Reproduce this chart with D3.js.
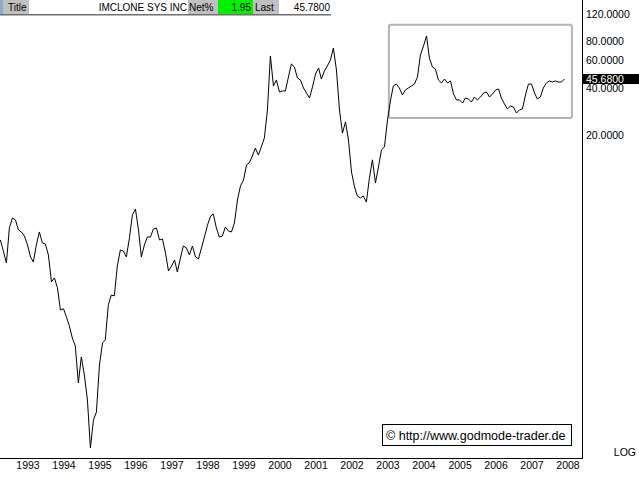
<!DOCTYPE html>
<html><head><meta charset="utf-8">
<script src="https://cdn.jsdelivr.net/npm/d3@7"></script>
<style>
html,body{margin:0;padding:0;background:#fff;}
svg{display:block;font-family:Arial,"Liberation Sans",sans-serif;}
</style></head><body>
<svg id="c" width="639" height="479"></svg>
<script>
// ---- data ----
const startMonth = "1992-04";
const prices = [
 4.21, 3.57, 2.99, 5.03, 5.83, 5.66, 4.88, 4.74, 4.46,
 3.91, 3.27, 3.04, 3.91, 4.74, 4.03, 3.97, 3.37, 2.26, 2.40,
 2.07, 1.49, 1.52, 1.34, 1.18, 0.985, 0.875, 0.506, 0.744, 0.569,
 0.393, 0.193, 0.292, 0.329, 0.660, 0.915, 0.956, 1.61, 1.86, 1.84,
 2.86, 3.63, 3.57, 3.27, 4.34, 6.09, 6.66, 4.88, 3.27, 3.91,
 4.40, 4.40, 4.95, 5.03, 4.21, 4.27, 3.47, 2.66, 2.86, 3.13,
 2.62, 3.22, 3.85, 3.74, 3.37, 3.85, 3.27, 3.18, 3.74, 4.40,
 5.25, 6.00, 6.18, 5.03, 4.40, 4.46, 5.10, 4.81, 4.74, 5.41,
 7.61, 9.36, 10.2, 12.8, 13.2, 14.6, 16.4, 14.8, 16.7, 19.1,
 28.9, 64.3, 41.2, 45.0, 37.7, 38.3, 38.3, 47.1, 57.1, 54.6,
 46.4, 45.0, 40.0, 37.1, 34.5, 40.6, 49.2, 53.8, 45.7, 51.5,
 55.4, 60.6, 72.3, 52.2, 28.9, 20.5, 24.2, 18.5, 11.5, 9.22,
 8.08, 7.84, 8.08, 7.38, 10.5, 13.8, 9.79, 12.4, 16.0, 16.7,
 24.9, 33.5, 41.2, 42.4, 40.0, 36.1, 38.8, 40.0, 41.2, 42.4,
 47.1, 65.2, 74.5, 86.4, 62.4, 54.6, 53.0, 45.0, 43.1, 45.7,
 43.1, 44.4, 36.6, 33.5, 33.5, 32.0, 34.5, 34.0, 32.5, 35.0,
 33.5, 35.0, 37.1, 37.7, 35.0, 36.6, 38.8, 39.4, 34.5, 31.6,
 29.3, 30.6, 30.2, 27.6, 28.9, 29.3, 36.1, 42.4, 42.4, 37.1,
 34.0, 35.0, 40.0, 43.1, 44.4, 43.7, 44.4, 43.7, 43.7, 45.68
];
const yearLabels = ["1993","1994","1995","1996","1997","1998","1999","2000",
  "2001","2002","2003","2004","2005","2006","2007","2008"];
const priceTicks = [20, 40, 60, 80, 120];
const priceTickLabels = ["20.0000","40.0000","60.0000","80.0000","120.0000"];
const lastPrice = 45.68;
const lastPriceLabel = "45.6800";
const headerTitle = "IMCLONE SYS INC";
const headerNet = "1.95";
const headerLast = "45.7800";
const creditText = "\u00A9 http://www.godmode-trader.de";
const highlightDates = ["2003-01-15", "2008-02-15"];
const highlightPrices = [25.6, 102];

// ---- setup ----
const W = 639, H = 479;
const svg = d3.select("#c");
svg.append("rect").attr("width", W).attr("height", H).attr("fill", "#fff");

const parseM = d3.timeParse("%Y-%m");
const parseD = d3.timeParse("%Y-%m-%d");
const start = parseM(startMonth);
const series = prices.map((v, i) => ({date: d3.timeMonth.offset(start, i), value: v}));

const axisX = 582, axisY = 458;
const x = d3.scaleTime()
  .domain([new Date(+yearLabels[0], 0, 1), new Date(+yearLabels[yearLabels.length - 1], 0, 1)])
  .range([27.5, 567.5]);
const y = d3.scaleLog().domain([0.1665, 147.3]).range([axisY, 0]);

// highlight box
svg.append("rect")
  .attr("x", x(parseD(highlightDates[0])))
  .attr("y", y(highlightPrices[1]))
  .attr("width", x(parseD(highlightDates[1])) - x(parseD(highlightDates[0])))
  .attr("height", y(highlightPrices[0]) - y(highlightPrices[1]))
  .attr("rx", 2)
  .attr("fill", "none").attr("stroke", "#b4b4b4").attr("stroke-width", 2);

// price line
svg.append("path").datum(series)
  .attr("fill", "none").attr("stroke", "#000").attr("stroke-width", 1)
  .attr("d", d3.line().x(d => x(d.date)).y(d => y(d.value)));

// axes lines
svg.append("line").attr("x1", 0).attr("x2", axisX).attr("y1", axisY + 0.5).attr("y2", axisY + 0.5)
  .attr("stroke", "#000");
svg.append("line").attr("x1", axisX + 0.5).attr("x2", axisX + 0.5).attr("y1", 0).attr("y2", axisY + 1)
  .attr("stroke", "#000");

// x axis labels
const xAxis = d3.axisBottom(x)
  .tickValues(yearLabels.map(s => new Date(+s, 0, 1)))
  .tickFormat((d, i) => yearLabels[i])
  .tickSize(0).tickPadding(3);
const gx = svg.append("g").attr("transform", `translate(0,${axisY + 1})`).call(xAxis);
gx.select(".domain").remove();
gx.selectAll("text").attr("font-size", "10.5px").attr("fill", "#000")
  .attr("font-family", "Arial, 'Liberation Sans', sans-serif");

// y axis labels
const yAxis = d3.axisRight(y)
  .tickValues(priceTicks)
  .tickFormat((d, i) => priceTickLabels[i])
  .tickSize(0).tickPadding(4);
const gy = svg.append("g").attr("transform", `translate(${axisX},0)`).call(yAxis);
gy.select(".domain").remove();
gy.selectAll("text").attr("font-size", "10.5px").attr("fill", "#000")
  .attr("font-family", "Arial, 'Liberation Sans', sans-serif");

// last price marker
const ly = y(lastPrice);
svg.append("rect").attr("x", axisX + 1).attr("y", ly - 5).attr("width", W - axisX - 1).attr("height", 10)
  .attr("fill", "#000");
svg.append("text").attr("x", axisX + 4).attr("y", ly).attr("dy", "0.35em")
  .attr("font-size", "10.5px").attr("fill", "#fff").text(lastPriceLabel);

// LOG label
svg.append("text").attr("x", 636).attr("y", axisY - 2).attr("text-anchor", "end")
  .attr("font-size", "10.5px").attr("fill", "#000").text("LOG");

// credit box
svg.append("rect").attr("x", 382.5).attr("y", 424.5).attr("width", 189).attr("height", 21)
  .attr("fill", "#fff").attr("stroke", "#000");
svg.append("text").attr("x", 386).attr("y", 439.5).attr("font-size", "12.5px").attr("fill", "#000")
  .text(creditText);

// header
const hdr = svg.append("g").attr("font-size", "10px").attr("fill", "#000");
hdr.append("rect").attr("x", 0).attr("y", 0).attr("width", 330).attr("height", 14).attr("fill", "#fff");
hdr.append("rect").attr("x", 0).attr("y", 0).attr("width", 29).attr("height", 14).attr("fill", "#c0c0c0");
hdr.append("rect").attr("x", 0).attr("y", 0).attr("width", 3).attr("height", 14).attr("fill", "#8ea8cc");
hdr.append("text").attr("x", 8).attr("y", 11).text("Title");
hdr.append("text").attr("x", 187).attr("y", 11).attr("text-anchor", "end").text(headerTitle);
hdr.append("rect").attr("x", 188).attr("y", 0).attr("width", 30).attr("height", 14).attr("fill", "#c0c0c0");
hdr.append("text").attr("x", 189).attr("y", 11).text("Net%");
hdr.append("rect").attr("x", 218).attr("y", 0).attr("width", 35).attr("height", 14).attr("fill", "#00f000");
hdr.append("text").attr("x", 251).attr("y", 11).attr("text-anchor", "end").text(headerNet);
hdr.append("rect").attr("x", 253).attr("y", 0).attr("width", 26).attr("height", 14).attr("fill", "#c0c0c0");
hdr.append("text").attr("x", 255).attr("y", 11).text("Last");
hdr.append("text").attr("x", 330).attr("y", 11).attr("text-anchor", "end").text(headerLast);
hdr.append("line").attr("x1", 0).attr("x2", 331).attr("y1", 14.75).attr("y2", 14.75)
  .attr("stroke", "#707070").attr("stroke-width", 1.5);
</script>
</body></html>
